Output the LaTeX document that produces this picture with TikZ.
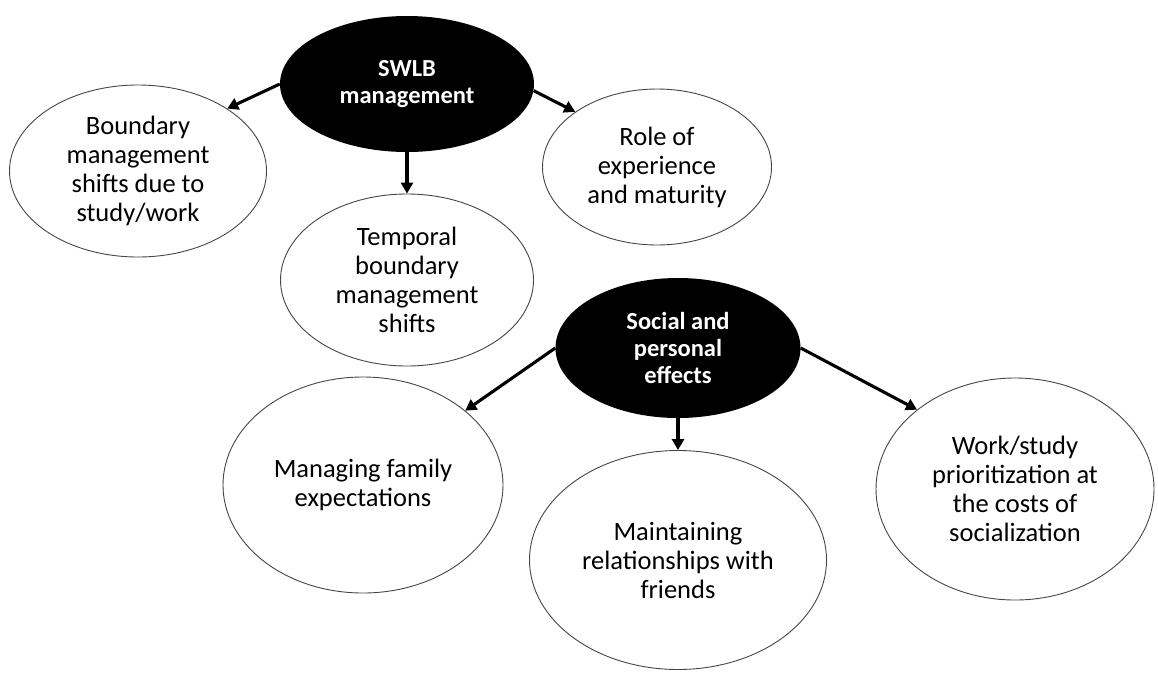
\documentclass[tikz,border=0pt]{standalone}
\usepackage{fontspec}
\setmainfont{Carlito}
\usetikzlibrary{arrows.meta,positioning,shapes.geometric}
\definecolor{rimgray}{RGB}{70,70,70}

\begin{document}
\begin{tikzpicture}[x=1pt, y=-1pt,
    theme/.style={ellipse, fill=black, text=white, inner sep=0pt, align=center,
        font=\bfseries\fontsize{24.5}{27}\selectfont},
    sub/.style={ellipse, draw=rimgray, line width=0.9pt, fill=white, inner sep=0pt, align=center,
        font=\fontsize{26.5}{29}\selectfont},
    link/.style={line width=3.1pt, -{Triangle[length=11pt,width=12pt]}}]
    \useasboundingbox[fill=white] (0,0) rectangle (1158,673);

    % Themes
    \node[theme, minimum width=254, minimum height=136] (swlb) at (407,84) {SWLB\\management};
    \node[theme, minimum width=245, minimum height=140] (social) at (678,348) {Social and\\personal\\effects};

    % Sub-themes of SWLB management
    \node[sub, minimum width=257, minimum height=172] (bound) at (138,171)
        {Boundary\\management\\shifts due to\\study/work};
    \node[sub, minimum width=253, minimum height=172] (temp) at (407,280)
        {Temporal\\boundary\\management\\shifts};
    \node[sub, minimum width=229, minimum height=156] (role) at (657,167)
        {Role of\\experience\\and maturity};

    % Sub-themes of social and personal effects
    \node[sub, minimum width=280, minimum height=216] (family) at (363,485)
        {Managing family\\expectations};
    \node[sub, minimum width=297, minimum height=219] (friends) at (678,560)
        {Maintaining\\relationships with\\friends};
    \node[sub, minimum width=278, minimum height=222] (prior) at (1015,489)
        {Work/study\\prioritization at\\the costs of\\socialization};

    % Arrows
    \draw[link] (swlb.180) -- (bound.35);
    \draw[link] (swlb.south) -- (temp.north);
    \draw[link] (swlb.-3) -- (role.146);
    \draw[link] (social.180) -- (family.36);
    \draw[link] (social.south) -- (friends.north);
    \draw[link] (social.0) -- (prior.141);
\end{tikzpicture}
\end{document}
